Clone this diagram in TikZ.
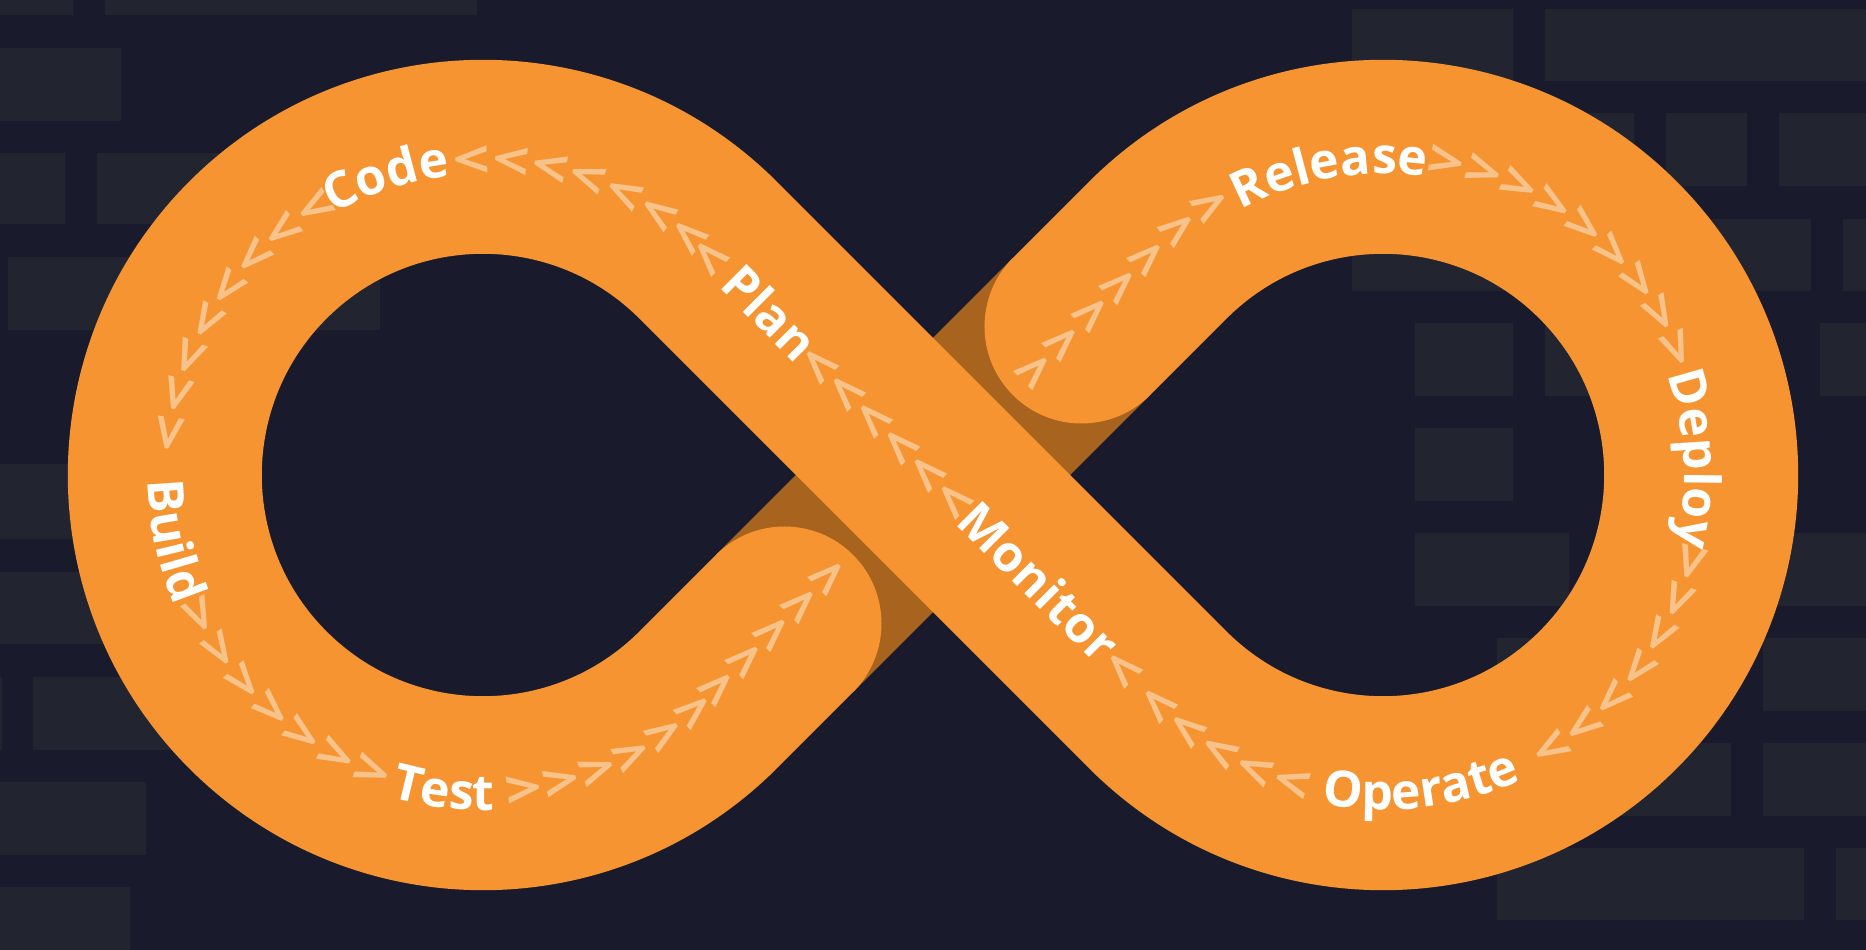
\documentclass[tikz,border=0pt]{standalone}
\usepackage{fontspec}
\setsansfont{Open Sans}
\usetikzlibrary{calc,decorations.text}
\definecolor{night}{HTML}{191A2B}
\definecolor{tile}{HTML}{222430}
\definecolor{ribbon}{HTML}{F59430}
\definecolor{fold}{HTML}{A8641F}
\definecolor{chevron}{HTML}{F8C38A}
\newcommand\lblfont{\sffamily\bfseries\fontsize{50}{60}\selectfont}
\newcommand\chevfont{\sffamily\bfseries\fontsize{52}{60}\selectfont}
\tikzset{
  band/.style={draw=ribbon,line width=194pt,line cap=round},
  underband/.style={draw=fold,line width=194pt},
  chev/.style={text=chevron,font=\chevfont,inner sep=0pt,rotate=#1,xscale=1.25},
  steplabel/.style={text=white,font=\lblfont,inner sep=0pt},
  arclabel/.style={decorate,decoration={text along path,text align=center,text color=white,text={|\lblfont|#1}}}
}

\begin{document}
\begin{tikzpicture}[x=1pt,y=1pt]
  \def\loopr{318.2}
  \useasboundingbox (-933,-475) rectangle (933,475);
  \fill[night] (-933,-475) rectangle (933,475);
  % background tiles, given in screen pixels
  \begin{scope}[shift={(-933,475)},yscale=-1]
    \foreach \xa/\ya/\xb/\yb in {
      0/0/73/15, 105/0/477/15, 0/48/121/121, 0/153/65/224, 97/153/400/224,
      8/257/380/330, 0/464/73/539, 0/572/250/644, 0/677/2/750, 33/677/250/750,
      0/782/146/855, 0/887/130/950,
      1352/9/1513/81, 1545/9/1866/81,
      1540/113/1634/186, 1666/113/1747/186, 1779/113/1866/186,
      1352/219/1811/291, 1843/219/1866/291,
      1415/323/1513/396, 1545/323/1700/396, 1820/323/1866/396,
      1415/428/1513/501, 1415/533/1569/606, 1700/533/1866/606,
      1497/638/1650/711, 1763/638/1866/711,
      1600/743/1731/816, 1763/743/1866/816,
      1497/848/1804/920, 1836/848/1866/920}
      \fill[tile] (\xa,\ya) rectangle (\xb,\yb);
  \end{scope}
  % the ribbon
  \coordinate (C) at (0,0);
  \coordinate (L) at (-450,0);
  \coordinate (R) at (450,0);
  \coordinate (T1) at (-225,225);
  \coordinate (T3) at (225,225);
  \coordinate (capA) at (225:210);
  \coordinate (capB) at (45:210);
  \draw[underband] (capA) -- (capB);
  \draw[band] (capB) -- (T3) arc[start angle=135,end angle=-135,radius=\loopr]
    -- (T1) arc[start angle=45,end angle=315,radius=\loopr] -- (capA);
  % stage names
  \path[arclabel=Code] ($(L)+(138:301)$) arc[start angle=138,end angle=78,radius=301];
  \path[arclabel=Build] ($(L)+(162:335)$) arc[start angle=162,end angle=222,radius=335];
  \path[arclabel=Test] ($(L)+(233:335)$) arc[start angle=233,end angle=293,radius=335];
  \path[arclabel=Release] ($(R)+(130:301)$) arc[start angle=130,end angle=70,radius=301];
  \path[arclabel=Deploy] ($(R)+(33:301)$) arc[start angle=33,end angle=-27,radius=301];
  \path[arclabel=Operate] ($(R)+(-113:335)$) arc[start angle=-113,end angle=-53,radius=335];
  \node[steplabel,rotate=-45] (plan) at (135:230) {Plan};
  \node[steplabel,rotate=-45] (monitor) at (-45:150) {Monitor};
  % chevrons
  \foreach \a in {49.3,56.2,63.4,70.6,77.7,84.9,92.1,
                  122,129.2,136.4,143.6,150.8,158,165.2,172.4,
                  206.3,213.5,220.7,227.9,235.1,242.3,249.5,
                  277.3,284.2,291.1,298,304.9,311.8}
    \node[chev=\a+90] at ($(L)+(\a:\loopr)$) {>};
  \foreach \a in {129.8,122.6,
                  78.6,71.7,64.8,57.9,51,44.1,37.2,30.3,23.4,
                  -15.8,-22.9,-30,-37.1,-44.2,-51.3,-58.4,
                  -106.5,-113.5,-120.5,-127.5,-134.5}
    \node[chev=\a-90] at ($(R)+(\a:\loopr)$) {>};
  \foreach \v in {302,263,224,185,146,-146,-186,-226,-266,-306}
    \node[chev=45] at (225:\v) {>};
  \foreach \u in {312,158,120,82,44,6,-32,-272}
    \node[chev=135] at (135:\u) {>};
\end{tikzpicture}
\end{document}
